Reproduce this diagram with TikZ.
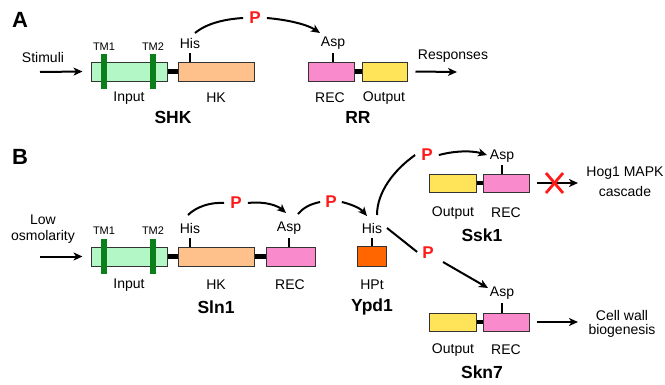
\documentclass[tikz,border=0pt]{standalone}
\usepackage{fontspec}
\setmainfont{Liberation Sans}
\usetikzlibrary{arrows.meta}
\definecolor{ingreen}{HTML}{B3F7C6}
\definecolor{tmgreen}{HTML}{0A7F1A}
\definecolor{hkorange}{HTML}{FFC18C}
\definecolor{recpink}{HTML}{F98ACB}
\definecolor{outyellow}{HTML}{FFE45A}
\definecolor{hptorange}{HTML}{FF6600}
\definecolor{pred}{HTML}{FF1A1A}
\tikzset{
  dombox/.style={draw=black!80, line width=1pt, inner sep=0pt, minimum height=19pt},
  tmbar/.style={fill=tmgreen, inner sep=0pt, minimum width=6pt, minimum height=35pt},
  linker/.style={line width=4.5pt, black},
  tickln/.style={line width=2pt, black},
  lbl/.style={inner sep=0pt, font=\fontsize{14}{16}\selectfont},
  tmlbl/.style={inner sep=0pt, font=\fontsize{11}{13}\selectfont},
  protname/.style={inner sep=0pt, font=\fontsize{17.5}{20}\selectfont\bfseries},
  panellbl/.style={inner sep=0pt, font=\fontsize{22}{24}\selectfont\bfseries},
  plbl/.style={inner sep=0pt, text=pred, font=\fontsize{17}{19}\selectfont\bfseries},
  arr/.style={line width=2pt, -{Stealth[length=9pt,width=8pt,inset=2.5pt]}},
  conn/.style={line width=2pt},
}
\begin{document}
\begin{tikzpicture}[x=1pt,y=-1pt]
\useasboundingbox (0,0) rectangle (665,384);
% ---------------- Panel A ----------------
\node[panellbl] (labA) at (20,20) {A};
\node[lbl] (stim) at (43,57) {Stimuli};
\coordinate (stimS) at (40,72);
\node[dombox, fill=ingreen, minimum width=76pt] (inA) at (129,71.5) {};
\node[dombox, fill=hkorange, minimum width=76pt] (hkA) at (216,71.5) {};
\node[dombox, fill=recpink, minimum width=46pt] (recA) at (331,71.5) {};
\node[dombox, fill=outyellow, minimum width=45pt] (outA) at (384.5,71.5) {};
\draw[arr] (stimS) -- ([xshift=-8pt]inA.west);
\draw[linker] (inA.east) -- (hkA.west);
\draw[linker] (recA.east) -- (outA.west);
\node[tmbar] (tm1A) at (104,71.5) {};
\node[tmbar] (tm2A) at (153,71.5) {};
\node[tmlbl] (tm1Al) at (104,47) {TM1};
\node[tmlbl] (tm2Al) at (153,47) {TM2};
\node[lbl] (hisA) at (190,43) {His};
\node[lbl] (aspA) at (333,43) {Asp};
\draw[tickln] (190,53) -- (hisA.south |- hkA.north);
\draw[tickln] (333,53) -- (aspA.south |- recA.north);
\node[lbl] at (129,98) {Input};
\node[lbl] at (216,98) {HK};
\node[lbl] at (330,98) {REC};
\node[lbl] at (384,98) {Output};
\node[protname] (shk) at (173,117) {SHK};
\node[protname] (rr) at (358,117) {RR};
\node[lbl] (resp) at (453,56) {Responses};
\coordinate (respE) at (457,72);
\draw[arr] (outA.east) ++(8,0) -- (respE);
\node[plbl] (pA) at (255,18) {P};
\draw[conn] (195,33) .. controls (207,23) and (226,19) .. ([xshift=-6pt]pA.west);
\draw[arr] ([xshift=6pt]pA.east) .. controls (290,20) and (308,25) .. (320,33);
% ---------------- Panel B ----------------
\node[panellbl] (labB) at (20,157) {B};
\node[lbl] (low) at (43,220) {Low};
\node[lbl] (osm) at (43,237) {osmolarity};
\coordinate (osmS) at (40,256.5);
\node[dombox, fill=ingreen, minimum width=76pt] (inB) at (129,256.5) {};
\node[dombox, fill=hkorange, minimum width=76pt] (hkB) at (216,256.5) {};
\node[dombox, fill=recpink, minimum width=49pt] (recB) at (290.5,256.5) {};
\draw[arr] (osmS) -- ([xshift=-8pt]inB.west);
\draw[linker] (inB.east) -- (hkB.west);
\draw[linker] (hkB.east) -- (recB.west);
\node[tmbar] (tm1B) at (104,256.5) {};
\node[tmbar] (tm2B) at (153,256.5) {};
\node[tmlbl] at (104,231) {TM1};
\node[tmlbl] at (153,231) {TM2};
\node[lbl] (hisB) at (190,228) {His};
\node[lbl] (aspB) at (289,228) {Asp};
\draw[tickln] (190,238) -- (hisB.south |- hkB.north);
\draw[tickln] (289,238) -- (aspB.south |- recB.north);
\node[lbl] at (129,285) {Input};
\node[lbl] at (216,285) {HK};
\node[lbl] at (290,285) {REC};
\node[protname] (sln) at (216,307) {Sln1};
\node[plbl] (p1) at (236,203) {P};
\draw[conn] (188,215) .. controls (196,207) and (210,202) .. ([xshift=-6pt]p1.west);
\draw[arr] ([xshift=6pt]p1.east) .. controls (266,201) and (278,206) .. (286,213);
\node[plbl] (p2) at (331,202) {P};
\draw[conn] (298,214) .. controls (303,208) and (310,204) .. ([xshift=-5pt]p2.west);
% Ypd1
\node[lbl] (hisY) at (372,228) {His};
\node[dombox, fill=hptorange, minimum width=29pt, minimum height=20pt] (hpt) at (371.5,256) {};
\draw[tickln] (372,238) -- (hisY.south |- hpt.north);
\draw[arr] ([xshift=5pt]p2.east) .. controls (354,205) and (361,209) .. (367,216);
\node[lbl] at (372,285) {HPt};
\node[protname] (ypd) at (372,307) {Ypd1};
% Ssk1
\node[plbl] (p3) at (427,155) {P};
\node[lbl] (aspS1) at (502,156) {Asp};
\node[dombox, fill=outyellow, minimum width=47pt, minimum height=18pt] (outS1) at (452.5,183) {};
\node[dombox, fill=recpink, minimum width=46pt, minimum height=18pt] (recS1) at (506,183) {};
\draw[linker] (outS1.east) -- (recS1.west);
\draw[tickln] (502,165) -- (aspS1.south |- recS1.north);
\draw[conn] (377,215) .. controls (377,192) and (394,170) .. ([xshift=-6pt]p3.west);
\draw[arr] ([xshift=6pt]p3.east) .. controls (458,150) and (474,151) .. (487,155);
\coordinate (hogE) at (578,183);
\draw[arr] ([xshift=7pt]recS1.east) -- (hogE);
\draw[pred, line width=2.8pt] (546,173) -- (563,193);
\draw[pred, line width=2.8pt] (546,193) -- (563,173);
\node[lbl] (hog) at (625,173) {Hog1 MAPK};
\node[lbl] (casc) at (625,191) {cascade};
\node[lbl] at (453,213) {Output};
\node[lbl] at (506,213) {REC};
\node[protname] (ssk) at (482,235) {Ssk1};
% Skn7
\node[plbl] (p4) at (428,253) {P};
\draw[conn] (387,228) -- ([xshift=-5pt,yshift=-5pt]p4.north west);
\node[lbl] (aspS7) at (502,293) {Asp};
\node[dombox, fill=outyellow, minimum width=47pt, minimum height=18pt] (outS7) at (452.5,322) {};
\node[dombox, fill=recpink, minimum width=46pt, minimum height=18pt] (recS7) at (506,322) {};
\draw[linker] (outS7.east) -- (recS7.west);
\draw[tickln] (502,303) -- (aspS7.south |- recS7.north);
\draw[arr] (443,262) -- (488,288);
\coordinate (cellE) at (578,322);
\draw[arr] ([xshift=7pt]recS7.east) -- (cellE);
\node[lbl] (cell) at (622,315) {Cell wall};
\node[lbl] (bio) at (622,331) {biogenesis};
\node[lbl] at (453,350) {Output};
\node[lbl] at (506,350) {REC};
\node[protname] (skn) at (482,372) {Skn7};
\end{tikzpicture}
\end{document}
